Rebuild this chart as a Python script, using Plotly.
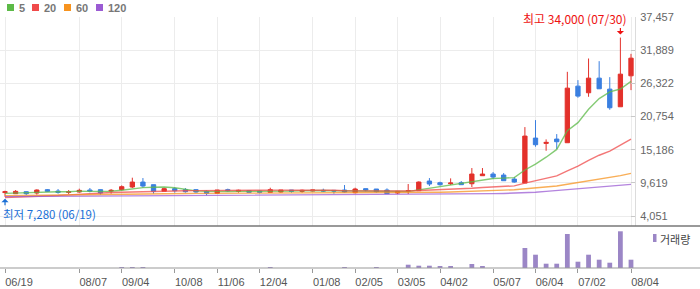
import plotly.graph_objects as go

# ---------------- data ----------------
tick_idx = [0, 7, 11, 16, 20, 24, 29, 33, 37, 41, 46, 50, 54, 59]
tick_labels = ["06/19", "08/07", "09/04", "10/08", "11/06", "12/04", "01/08",
               "02/05", "03/05", "04/02", "05/07", "06/04", "07/02", "08/04"]

price_ticks = [4051, 9619, 15186, 20754, 26322, 31889, 37457]
price_tick_labels = ["4,051", "9,619", "15,186", "20,754", "26,322", "31,889", "37,457"]

opens = [7980, 7796, 8130, 7910, 8470, 8240, 8020, 8075, 8410, 8470,
         8240, 8470, 8915, 9750, 9305, 8190, 8640, 8470, 8470, 8190,
         7850, 8470, 8190, 8300, 8240, 8020, 8075, 8410, 8190, 8240,
         8355, 8355, 8410, 7965, 8640, 8580, 8410, 7910, 8240, 8300,
         9920, 9640, 9470, 9640, 9470, 10815, 11095, 10925, 10250, 9585,
         17130, 16240, 16965, 16350, 25850, 24735, 27193, 25348, 22386, 27584]
highs = [8300, 8410, 8190, 8520, 8580, 8580, 8410, 8635, 8750, 8520,
         8580, 9190, 10480, 10420, 9305, 8800, 8860, 8750, 8520, 8355,
         8410, 8640, 8470, 8355, 8300, 8800, 8410, 8410, 8470, 8410,
         8640, 8355, 9250, 8800, 8640, 8580, 8690, 8190, 9420, 9865,
         10420, 9810, 10370, 9920, 12100, 12100, 11430, 11260, 10590, 18976,
         20150, 16910, 17800, 28255, 26860, 30491, 30044, 27360, 34000, 31274]
lows = [7280, 7740, 7570, 7630, 8075, 7800, 7740, 7965, 8020, 7630,
        7800, 8355, 8750, 8800, 7800, 8190, 7965, 7965, 7965, 7517,
        7740, 8130, 7965, 8020, 7850, 8020, 7965, 7965, 7965, 8190,
        8075, 7800, 7965, 7850, 8190, 7965, 7740, 7740, 7740, 8300,
        9080, 9140, 9250, 9305, 8915, 10815, 10250, 9975, 9640, 9585,
        15680, 15000, 15290, 16350, 23900, 24063, 25404, 21883, 22386, 25180]
closes = [8130, 8188, 7796, 8410, 8190, 8020, 8130, 8355, 8240, 7910,
          8355, 8970, 9750, 9080, 8190, 8640, 8300, 8130, 8075, 7850,
          8410, 8300, 8355, 8020, 8020, 8470, 8410, 8190, 8355, 8410,
          8240, 8240, 8075, 8580, 8410, 8130, 7800, 8190, 8300, 9750,
          9420, 9305, 9585, 9305, 11095, 11095, 10590, 9975, 9750, 17467,
          16015, 16405, 16520, 25516, 24175, 27193, 25404, 22218, 27864, 30547]

ma5 = [7850, 7900, 7950, 8000, 8143, 8121, 8109, 8221, 8187, 8131,
       8198, 8366, 8645, 8813, 8869, 8926, 8792, 8468, 8267, 8199,
       8153, 8153, 8198, 8187, 8221, 8233, 8255, 8222, 8289, 8367,
       8321, 8287, 8264, 8309, 8309, 8287, 8199, 8222, 8166, 8434,
       8692, 8993, 9272, 9473, 9742, 10077, 10334, 10412, 10501, 11775,
       12759, 13922, 15231, 18385, 19726, 21962, 23762, 24901, 25371, 26645]
ma20 = [7150, 7200, 7250, 7300, 7380, 7480, 7600, 7720, 7830, 7920,
        7990, 8050, 8110, 8160, 8200, 8230, 8260, 8290, 8310, 8335,
        8349, 8355, 8383, 8363, 8355, 8377, 8391, 8383, 8389, 8414,
        8408, 8372, 8288, 8263, 8274, 8248, 8223, 8226, 8237, 8332,
        8383, 8433, 8494, 8558, 8712, 8843, 8952, 9041, 9111, 9564,
        9953, 10361, 10783, 11630, 12418, 13371, 14251, 14952, 15930, 16970]
ma60 = [7450, 7480, 7510, 7540, 7570, 7600, 7630, 7660, 7690, 7720,
        7740, 7760, 7780, 7800, 7810, 7820, 7830, 7840, 7845, 7850,
        7855, 7860, 7860, 7865, 7865, 7870, 7870, 7875, 7875, 7880,
        7880, 7885, 7885, 7890, 7890, 7895, 7900, 7910, 7930, 7960,
        8000, 8040, 8080, 8120, 8180, 8250, 8320, 8390, 8460, 8600,
        8760, 8920, 9080, 9370, 9650, 9970, 10260, 10500, 10830, 11210]
ma120 = [7300, 7310, 7320, 7330, 7340, 7350, 7360, 7370, 7380, 7390,
         7400, 7410, 7420, 7430, 7440, 7450, 7460, 7470, 7480, 7490,
         7500, 7505, 7510, 7515, 7520, 7525, 7530, 7535, 7540, 7545,
         7550, 7555, 7560, 7565, 7570, 7580, 7590, 7600, 7615, 7630,
         7650, 7670, 7690, 7710, 7740, 7770, 7800, 7840, 7880, 7950,
         8050, 8180, 8320, 8480, 8640, 8800, 8960, 9100, 9230, 9360]

volume = [0, 0, 0, 0, 0, 0, 0, 0, 0, 0,
          0, 100, 100, 100, 0, 0, 0, 0, 0, 0,
          0, 0, 0, 0, 0, 100, 0, 0, 0, 0,
          0, 0, 90, 0, 0, 100, 0, 0, 330, 230,
          230, 130, 130, 0, 400, 130, 0, 0, 0, 2000,
          1330, 430, 430, 3400, 630, 1330, 830, 530, 3670, 830]

ma_names = ["5", "20", "60", "120"]
ma_colors = ["#5cba47", "#f04a4a", "#f7931e", "#9b5bd3"]
ma_series = [ma5, ma20, ma60, ma120]

high_label = "최고 34,000 (07/30)"
low_label = "최저 7,280 (06/19)"
vol_label = "거래량"

# ---------------- geometry helpers ----------------
W, H = 700, 289
ML, MR, MT, MB = 0, 65, 17, 21
PW, PH = W - ML - MR, H - MT - MB


def px(x):
    return (x - ML) / PW


def py(y):
    return (H - MB - y) / PH


n = len(closes)
xs = list(range(n))
xrange_ = [-5 / 10.61, (n - 1) + 4 / 10.61]

UP = "#e3312b"
DOWN = "#3a7fe0"
VOL = "#9b86c6"
FONT = "Liberation Sans, Arial, sans-serif"
KFONT = "Noto Sans CJK KR, sans-serif"

fig = go.Figure()

for name, col, ser in zip(ma_names, ma_colors, ma_series):
    fig.add_trace(go.Scatter(x=xs, y=ser, mode="lines", name=name,
                             line=dict(color=col, width=1.4), opacity=0.75,
                             xaxis="x", yaxis="y", showlegend=False))

fig.add_trace(go.Candlestick(
    x=xs, open=opens, high=highs, low=lows, close=closes,
    increasing=dict(line=dict(color=UP, width=1), fillcolor=UP),
    decreasing=dict(line=dict(color=DOWN, width=1), fillcolor=DOWN),
    whiskerwidth=0, xaxis="x", yaxis="y", showlegend=False))

fig.add_trace(go.Bar(x=xs, y=volume, marker=dict(color=VOL, line=dict(width=0)),
                     width=0.45, xaxis="x2", yaxis="y2", showlegend=False))

price_bottom = py(226)
vol_top = py(228)

fig.update_layout(
    width=W, height=H,
    margin=dict(l=ML, r=MR, t=MT, b=MB, pad=0),
    paper_bgcolor="white", plot_bgcolor="white",
    boxgap=0.42,
    xaxis=dict(domain=[0, 1], anchor="y", range=xrange_, showticklabels=False,
               tickvals=tick_idx, ticks="", showgrid=True, gridcolor="#ececec",
               gridwidth=1, zeroline=False, showline=False,
               rangeslider=dict(visible=False)),
    yaxis=dict(domain=[price_bottom, 1], anchor="x", side="right",
               range=[2372, 37457], tickvals=price_ticks, ticktext=price_tick_labels,
               ticks="inside", ticklen=4, tickcolor="#c8c8c8",
               showgrid=True, gridcolor="#ececec", gridwidth=1, zeroline=False,
               showline=True, linecolor="#dcdcdc", linewidth=1,
               tickfont=dict(family=FONT, size=11, color="#666666"),
               ticklabelstandoff=2),
    xaxis2=dict(domain=[0, 1], anchor="y2", range=xrange_, tickvals=tick_idx,
                ticktext=tick_labels, ticks="outside", ticklen=4, tickcolor="#999999",
                ticklabelshift=14, ticklabeloverflow="allow",
                showgrid=False, zeroline=False, showline=False,
                tickfont=dict(family=FONT, size=11, color="#555555")),
    yaxis2=dict(domain=[0, vol_top], anchor="x2", range=[0, 4000], visible=False),
)

shapes = [
    dict(type="line", xref="paper", yref="paper", x0=0, x1=W / PW,
         y0=price_bottom, y1=price_bottom, line=dict(color="#777777", width=1.5)),
    dict(type="line", xref="paper", yref="paper", x0=0, x1=W / PW,
         y0=0, y1=0, line=dict(color="#999999", width=1.2)),
]

annotations = []
# top-left MA legend
leg_x = [7, 32, 64, 96]
for lx, name, col in zip(leg_x, ma_names, ma_colors):
    shapes.append(dict(type="rect", xref="paper", yref="paper",
                       x0=px(lx), x1=px(lx + 7), y0=py(11), y1=py(4),
                       fillcolor=col, line=dict(width=0)))
    annotations.append(dict(xref="paper", yref="paper", x=px(lx + 10), y=py(7.5),
                            text="<b>%s</b>" % name, showarrow=False,
                            xanchor="left", yanchor="middle",
                            font=dict(family=FONT, size=11, color="#777777")))

# volume legend
shapes.append(dict(type="rect", xref="paper", yref="paper",
                   x0=px(653), x1=px(656.5), y0=py(242), y1=py(234),
                   fillcolor=VOL, line=dict(width=0)))
annotations.append(dict(xref="paper", yref="paper", x=px(658), y=py(238.5),
                        text=vol_label, showarrow=False, xanchor="left",
                        yanchor="middle",
                        font=dict(family=KFONT, size=11, color="#444444")))

# high / low labels
annotations.append(dict(xref="paper", yref="paper", x=px(629), y=py(18),
                        text=high_label, showarrow=False, xanchor="right",
                        yanchor="middle",
                        font=dict(family=KFONT, size=12, color="#ee1111")))
annotations.append(dict(x=58, y=highs[58], xref="x", yref="y", text="",
                        showarrow=True, ax=0, ay=-11, arrowhead=1, arrowsize=1,
                        arrowwidth=1.2, arrowcolor="#ee1111", standoff=3))
annotations.append(dict(xref="paper", yref="paper", x=px(1), y=py(214),
                        text=low_label, showarrow=False, xanchor="left",
                        yanchor="middle",
                        font=dict(family=KFONT, size=11.5, color="#1a6fd6")))
annotations.append(dict(x=0, y=lows[0], xref="x", yref="y", text="",
                        showarrow=True, ax=0, ay=10, arrowhead=1, arrowsize=1,
                        arrowwidth=1.2, arrowcolor="#1a6fd6", standoff=2))

fig.update_layout(shapes=shapes, annotations=annotations)

fig.write_html("out.html")
